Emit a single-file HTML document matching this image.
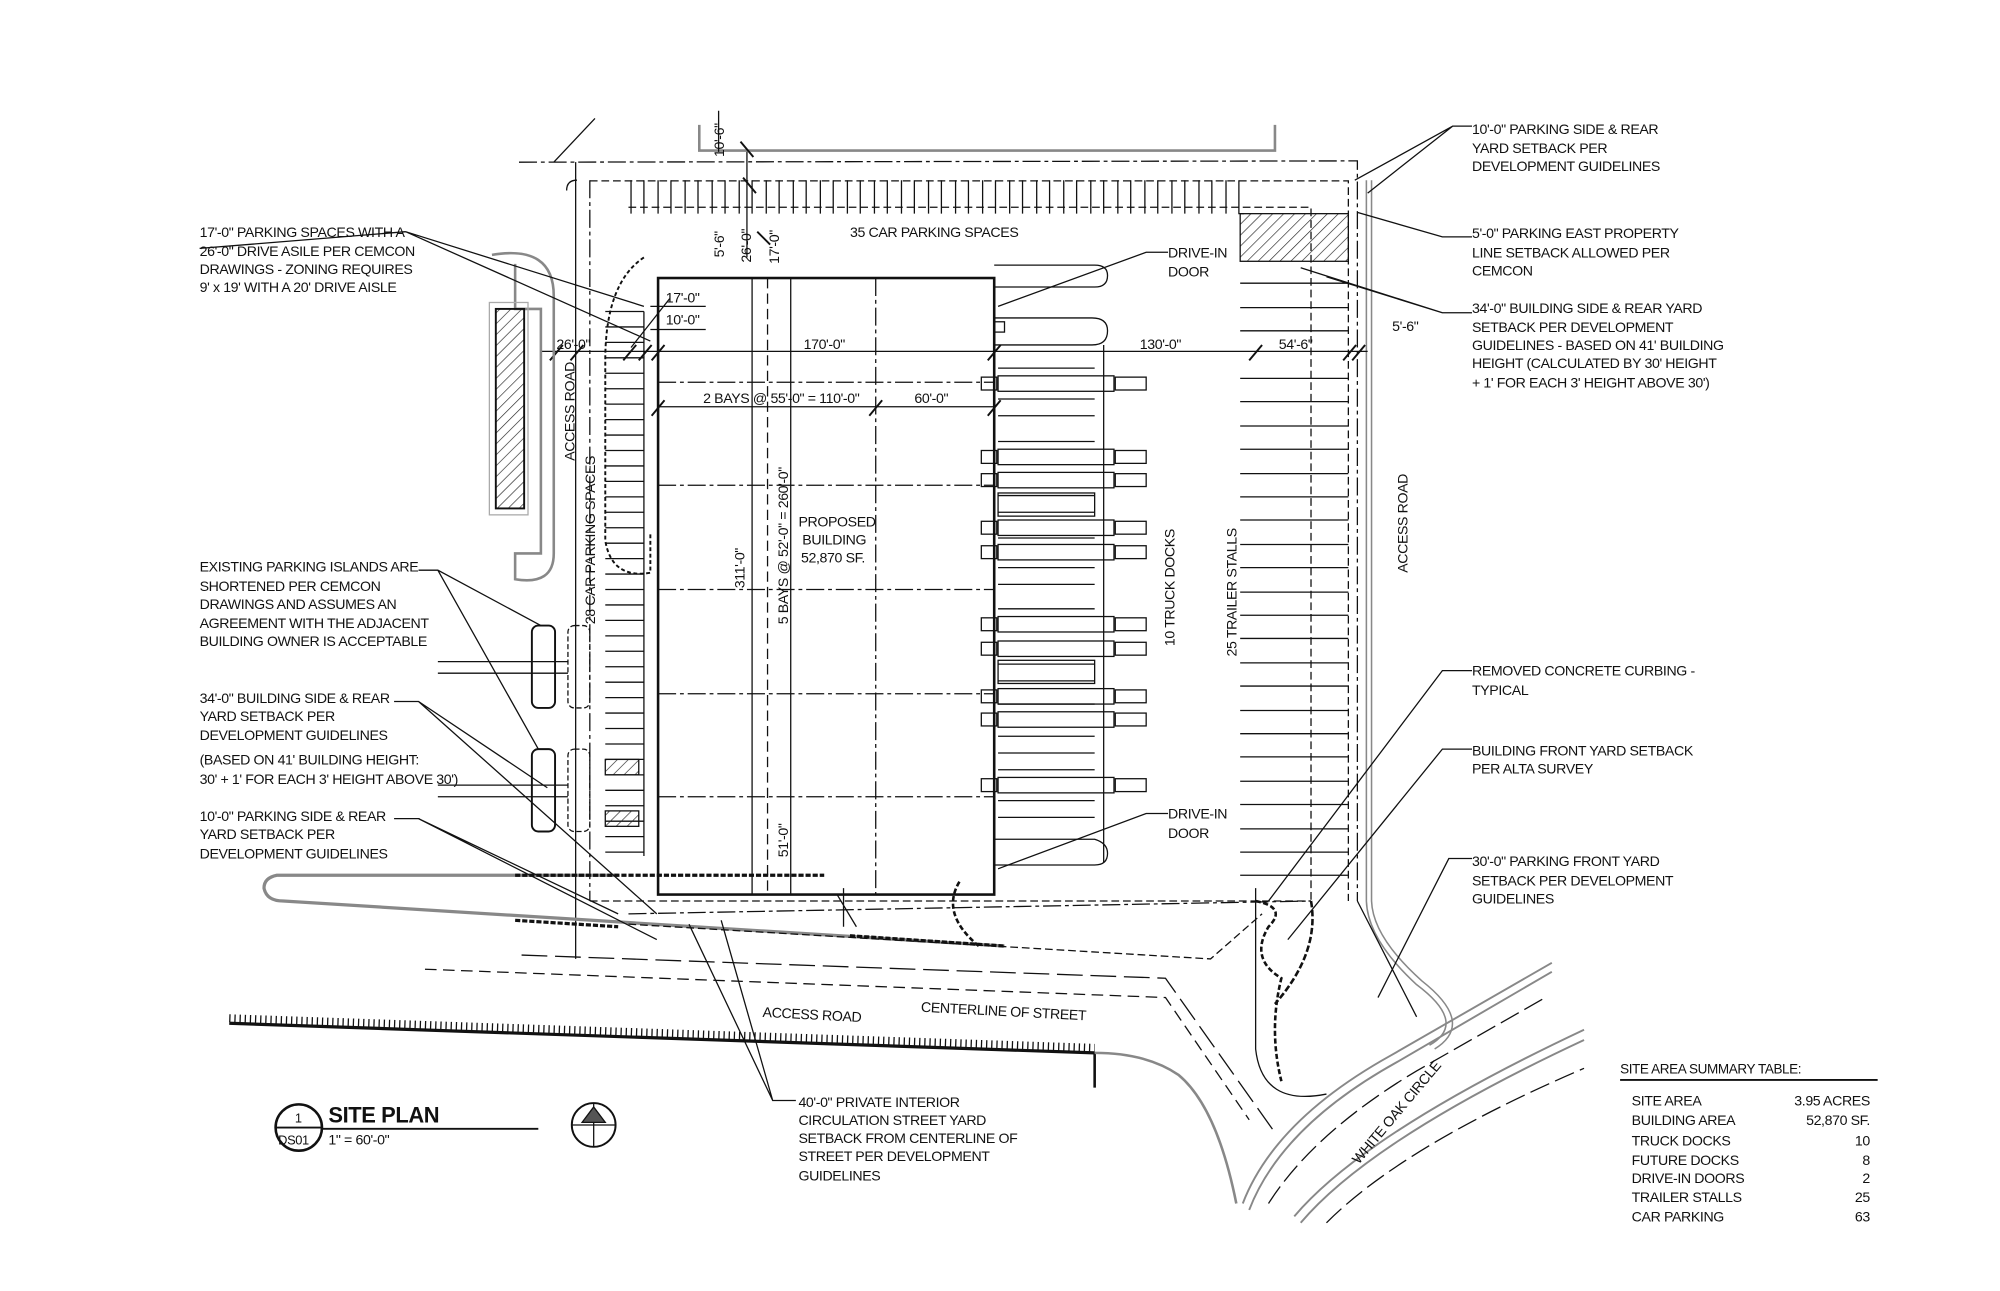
<!DOCTYPE html>
<html><head><meta charset="utf-8"><style>
html,body{margin:0;padding:0;background:#fff}
svg{display:block}
text{font-family:"Liberation Sans",sans-serif;font-size:11px;fill:#111;letter-spacing:-0.3px}
</style></head><body>
<svg width="2000" height="1291" viewBox="0 0 1553 1003" preserveAspectRatio="none" xmlns="http://www.w3.org/2000/svg">
<defs>
<pattern id="h" width="6" height="6" patternUnits="userSpaceOnUse" patternTransform="rotate(45)"><line x1="0" y1="0" x2="0" y2="6" stroke="#222" stroke-width="1"/></pattern>
</defs>
<g fill="none" stroke="#111" stroke-width="1">
<!-- top boundaries -->
<path d="M403,126 L1054,125 L1054,700" stroke-dasharray="14,3,3,3"/>
<path d="M458,140.5 L1047,140.5 L1047,700" stroke-dasharray="6,3"/>
<path d="M488,161 L1018,161 L1018,700" stroke-dasharray="6,3"/>
<path d="M430,126 L462,92"/>
<path d="M543,97 L543,117 L990,117 L990,97" stroke="#888" stroke-width="2"/>
<path d="M447,126 L447,745"/>
<path d="M440,148 Q440,140 448,140"/>
<!-- top parking stripes -->
<g>
<path d="M490,140 L490,166 M500,140 L500,166 M511,140 L511,166 M521,140 L521,166 M532,140 L532,166 M542,140 L542,166 M553,140 L553,166 M563,140 L563,166 M574,140 L574,166 M584,140 L584,166 M595,140 L595,166 M605,140 L605,166 M616,140 L616,166 M626,140 L626,166 M637,140 L637,166 M647,140 L647,166 M658,140 L658,166 M668,140 L668,166 M679,140 L679,166 M689,140 L689,166 M700,140 L700,166 M710,140 L710,166 M721,140 L721,166 M731,140 L731,166 M742,140 L742,166 M752,140 L752,166 M763,140 L763,166 M773,140 L773,166 M784,140 L784,166 M794,140 L794,166 M805,140 L805,166 M815,140 L815,166 M826,140 L826,166 M836,140 L836,166 M847,140 L847,166 M857,140 L857,166 M868,140 L868,166 M878,140 L878,166 M889,140 L889,166 M899,140 L899,166 M910,140 L910,166 M920,140 L920,166 M931,140 L931,166 M941,140 L941,166 M952,140 L952,166 M962,140 L962,166 Q962,166 966,166"/>
</g>
<!-- hatched area -->
<rect x="963" y="166" width="84" height="37" fill="url(#h)"/>
<!-- trailer stalls -->
<path d="M963,220H1047M963,239H1047M963,257H1047M963,294H1047M963,312H1047M963,331H1047M963,349H1047M963,368H1047M963,386H1047M963,404H1047M963,423H1047M963,441H1047M963,460H1047M963,478H1047M963,496H1047M963,515H1047M963,533H1047M963,552H1047M963,570H1047M963,588H1047M963,607H1047M963,625H1047M963,644H1047M963,662H1047M963,680H1047"/>
<!-- right access road -->
<path d="M1061,140 L1061,700 Q1062,730 1100,765 Q1140,795 1110,812" stroke="#888" stroke-width="1.2"/>
<path d="M1065,140 L1065,700 Q1066,728 1104,762 Q1146,795 1114,815" stroke="#888" stroke-width="1.2"/>
<path d="M1054,700 L1100,790"/>
<!-- building -->
<rect x="511" y="216" width="261" height="479" stroke-width="2"/>
<path d="M584,216V695M614,216V695"/>
<path d="M596,216V695" stroke-dasharray="8,4"/>
<path d="M680,216V695M511,297H772M511,377H772M511,458H772M511,539H772M511,619H772" stroke-dasharray="14,3,3,3"/>
<!-- dimension lines -->
<path d="M420,273 L1062,273"/>
<path d="M511,316 L772,316"/>
<g stroke-width="1.5"><path d="M427,280l10,-12M443,280l10,-12M484,280l10,-12M496,280l10,-12M506,280l10,-12M767,280l10,-12M970,280l10,-12M1043,280l10,-12M1050,280l10,-12M506,323l10,-12M675,323l10,-12M767,323l10,-12M575,110l10,12M587,150l-10,-12M598,190l-10,-10"/></g>
<path d="M505,238H548M505,256H548M490,270L520,232"/>
<!-- left parking -->
<path d="M382,198 Q430,190 430,230 L430,430 Q430,455 400,450 L400,430 L420,430 L420,240 L400,240 L400,205" stroke="#888" stroke-width="2"/>
<rect x="385" y="240" width="22" height="155" fill="url(#h)" stroke="#111" stroke-width="1.5"/>
<rect x="380" y="235" width="30" height="165" stroke="#aaa"/>
<path d="M500,242V665M470,242H500M470,254H500M470,266H500M470,278H500M470,290H500M470,302H500M470,314H500M470,326H500M470,338H500M470,350H500M470,362H500M470,374H500M470,386H500M470,398H500M470,410H500M470,422H500M470,434H500M470,446H500M470,458H500M470,470H500M470,482H500M470,494H500M470,506H500M470,518H500M470,530H500M470,542H500M470,554H500M470,566H500M470,578H500M470,590H500M470,602H500M470,614H500M470,626H500M470,638H500M470,650H500M470,662H500"/>
<path d="M458,140V700" stroke-dasharray="14,3,3,3"/>
<path d="M500,200 Q470,220 470,280 L470,420 Q475,450 505,445 L505,415" stroke-dasharray="3,2" stroke-width="1.5"/>
<rect x="470" y="590" width="26" height="12" fill="url(#h)"/>
<rect x="470" y="630" width="26" height="12" fill="url(#h)"/>
<rect x="413" y="486" width="18" height="64" rx="5" stroke-width="1.5"/>
<rect x="441" y="486" width="17" height="64" rx="5" stroke-dasharray="4,2"/>
<rect x="413" y="582" width="18" height="64" rx="5" stroke-width="1.5"/>
<rect x="441" y="582" width="17" height="64" rx="5" stroke-dasharray="4,2"/>
<path d="M340,514H441M340,523H441M340,610H441M340,619H441"/>
<!-- truck docks -->
<g>
<path d="M775,286H850M775,310H850M775,323H850M775,343H850M775,385H850M775,398H850M775,418H850M775,441H850M775,454H850M775,473H850M775,516H850M775,529H850M775,547H850M775,572H850M775,585H850M775,598H850M775,622H850M775,635H850"/>
<path d="M857,268V670"/>
<rect x="775" y="383" width="75" height="18"/><rect x="775" y="513" width="75" height="18"/>
<rect x="775" y="292" width="90" height="12"/><rect x="762" y="293" width="12" height="10"/><rect x="866" y="293" width="24" height="10"/>
<rect x="775" y="349" width="90" height="12"/><rect x="762" y="350" width="12" height="10"/><rect x="866" y="350" width="24" height="10"/>
<rect x="775" y="367" width="90" height="12"/><rect x="762" y="368" width="12" height="10"/><rect x="866" y="368" width="24" height="10"/>
<rect x="775" y="404" width="90" height="12"/><rect x="762" y="405" width="12" height="10"/><rect x="866" y="405" width="24" height="10"/>
<rect x="775" y="423" width="90" height="12"/><rect x="762" y="424" width="12" height="10"/><rect x="866" y="424" width="24" height="10"/>
<rect x="775" y="479" width="90" height="12"/><rect x="762" y="480" width="12" height="10"/><rect x="866" y="480" width="24" height="10"/>
<rect x="775" y="498" width="90" height="12"/><rect x="762" y="499" width="12" height="10"/><rect x="866" y="499" width="24" height="10"/>
<rect x="775" y="535" width="90" height="12"/><rect x="762" y="536" width="12" height="10"/><rect x="866" y="536" width="24" height="10"/>
<rect x="775" y="553" width="90" height="12"/><rect x="762" y="554" width="12" height="10"/><rect x="866" y="554" width="24" height="10"/>
<rect x="775" y="604" width="90" height="12"/><rect x="762" y="605" width="12" height="10"/><rect x="866" y="605" width="24" height="10"/>
</g>
<path d="M772,206 L850,206 Q860,206 860,214 Q860,223 850,223 L772,223"/>
<path d="M772,247 L848,247 Q860,247 860,257 Q860,268 848,268 L772,268"/>
<rect x="772" y="250" width="8" height="8"/>
<path d="M772,652 L850,652 Q860,655 860,663 Q860,672 850,672 L772,672"/>
<!-- bottom -->
<path d="M480,680 L215,680 Q205,682 205,690 Q207,700 220,700 L780,735" stroke="#888" stroke-width="2.5"/>
<path d="M400,680 H640 M400,715 L480,720 M660,727 L780,735" stroke-dasharray="4,1.5" stroke-width="2.5"/>
<path d="M458,700 L1018,700" stroke-dasharray="6,3"/>
<path d="M488,718 L940,745 L980,710" stroke-dasharray="6,3"/>
<path d="M488,710 L1018,700" stroke-dasharray="14,3,3,3"/>
<path d="M405,742 L905,760 L990,880" stroke-dasharray="20,6"/>
<path d="M330,753 L905,775 L970,870" stroke-dasharray="9,5"/>
<path d="M178,795 L850,818" stroke-width="2.5"/>
<path d="M178,795 L850,818" stroke-width="6" stroke-dasharray="1,3" transform="translate(0,-4)"/>
<path d="M850,818 L850,845" stroke-width="2"/>
<path d="M850,818 Q890,818 915,835 Q945,860 960,935" stroke="#888" stroke-width="2"/>
<path d="M745,685 Q730,710 760,735" stroke-dasharray="4,2" stroke-width="2"/>
<path d="M655,690 L655,720 M650,695 L665,720" />
<path d="M975,690 L975,815 Q980,860 1030,850" />
<path d="M975,700 Q1000,705 985,720 Q970,745 995,760 Q985,800 995,840" stroke-dasharray="4,2" stroke-width="2"/>
<path d="M1018,700 Q1025,740 990,780" stroke-dasharray="5,2" stroke-width="2"/>
<path d="M965,935 Q990,870 1080,820 L1205,748" stroke="#888" stroke-width="1.5"/>
<path d="M970,940 Q995,875 1085,825 L1205,755" stroke="#888" stroke-width="1.5"/>
<path d="M985,935 Q1020,880 1100,832 L1200,775" stroke-dasharray="16,5"/>
<path d="M1005,945 Q1060,880 1230,800" stroke="#888" stroke-width="1.5"/>
<path d="M1010,950 Q1065,885 1230,808" stroke="#888" stroke-width="1.5"/>
<path d="M1030,950 Q1090,890 1230,830" stroke-dasharray="16,5"/>
<!-- leaders -->
<path d="M155,193 L315,180 M315,180 L500,238 M315,180 L505,265"/>
<path d="M1143,98 L1128,98 L1052,140 M1128,98 L1062,150"/>
<path d="M1143,184 L1120,184 L1054,165"/>
<path d="M1143,243 L1120,243 L1010,208 M1120,243 L1030,215"/>
<path d="M325,443 L340,443 L420,486 M340,443 L418,582"/>
<path d="M306,545 L325,545 L425,612 M325,545 L510,710"/>
<path d="M306,636 L325,636 L480,710 M325,636 L510,730"/>
<path d="M618,855 L600,855 L560,715 M600,855 L535,718"/>
<path d="M907,196 L890,196 L775,238"/>
<path d="M907,632 L890,632 L775,675"/>
<path d="M1143,521 L1120,521 L985,700"/>
<path d="M1143,582 L1120,582 L1000,730"/>
<path d="M1143,667 L1125,667 L1070,775"/>
<path d="M558,86 L558,118 M580,118 L580,200"/>
<!-- site plan block -->
<circle cx="232" cy="876" r="18" stroke-width="2"/>
<path d="M214,876H250M250,877H418" stroke-width="1.5"/>
<circle cx="461" cy="874" r="17" stroke-width="1.5"/>
<path d="M444,874H478M461,857V891"/>
<path d="M461,860 L452,872 L470,872 Z" fill="#555"/>
<!-- table -->
<path d="M1258,839H1458" stroke-width="1.5"/>
</g>
<!-- text -->
<g>
<text x="155" y="184">17'-0" PARKING SPACES WITH A</text>
<text x="155" y="199">26'-0" DRIVE ASILE PER CEMCON</text>
<text x="155" y="213">DRAWINGS - ZONING REQUIRES</text>
<text x="155" y="227">9' x 19' WITH A 20' DRIVE AISLE</text>
<text x="1143" y="104">10'-0" PARKING SIDE &amp; REAR</text>
<text x="1143" y="119">YARD SETBACK PER</text>
<text x="1143" y="133">DEVELOPMENT GUIDELINES</text>
<text x="1143" y="185">5'-0" PARKING EAST PROPERTY</text>
<text x="1143" y="200">LINE SETBACK ALLOWED PER</text>
<text x="1143" y="214">CEMCON</text>
<text x="1143" y="243">34'-0" BUILDING SIDE &amp; REAR YARD</text>
<text x="1143" y="258">SETBACK PER DEVELOPMENT</text>
<text x="1143" y="272">GUIDELINES - BASED ON 41' BUILDING</text>
<text x="1143" y="286">HEIGHT (CALCULATED BY 30' HEIGHT</text>
<text x="1143" y="301">+ 1' FOR EACH 3' HEIGHT ABOVE 30')</text>
<text x="1143" y="525">REMOVED CONCRETE CURBING -</text>
<text x="1143" y="540">TYPICAL</text>
<text x="1143" y="587">BUILDING FRONT YARD SETBACK</text>
<text x="1143" y="601">PER ALTA SURVEY</text>
<text x="1143" y="673">30'-0" PARKING FRONT YARD</text>
<text x="1143" y="688">SETBACK PER DEVELOPMENT</text>
<text x="1143" y="702">GUIDELINES</text>
<text x="155" y="444">EXISTING PARKING ISLANDS ARE</text>
<text x="155" y="459">SHORTENED PER CEMCON</text>
<text x="155" y="473">DRAWINGS AND ASSUMES AN</text>
<text x="155" y="488">AGREEMENT WITH THE ADJACENT</text>
<text x="155" y="502">BUILDING OWNER IS ACCEPTABLE</text>
<text x="155" y="546">34'-0" BUILDING SIDE &amp; REAR</text>
<text x="155" y="560">YARD SETBACK PER</text>
<text x="155" y="575">DEVELOPMENT GUIDELINES</text>
<text x="155" y="594">(BASED ON 41' BUILDING HEIGHT:</text>
<text x="155" y="609">30' + 1' FOR EACH 3' HEIGHT ABOVE 30')</text>
<text x="155" y="638">10'-0" PARKING SIDE &amp; REAR</text>
<text x="155" y="652">YARD SETBACK PER</text>
<text x="155" y="667">DEVELOPMENT GUIDELINES</text>
<text x="620" y="860">40'-0" PRIVATE INTERIOR</text>
<text x="620" y="874">CIRCULATION STREET YARD</text>
<text x="620" y="888">SETBACK FROM CENTERLINE OF</text>
<text x="620" y="902">STREET PER DEVELOPMENT</text>
<text x="620" y="917">GUIDELINES</text>
<text x="907" y="200">DRIVE-IN</text><text x="907" y="215">DOOR</text>
<text x="907" y="636">DRIVE-IN</text><text x="907" y="651">DOOR</text>
<text x="660" y="184">35 CAR PARKING SPACES</text>
<text x="620" y="409">PROPOSED</text>
<text x="623" y="423">BUILDING</text>
<text x="622" y="437">52,870 SF.</text>
<text x="517" y="235">17'-0"</text>
<text x="517" y="252">10'-0"</text>
<text x="432" y="271">26'-0"</text>
<text x="624" y="271">170'-0"</text>
<text x="885" y="271">130'-0"</text>
<text x="993" y="271">54'-6"</text>
<text x="1081" y="257">5'-6"</text>
<text x="546" y="313">2 BAYS @ 55'-0" = 110'-0"</text>
<text x="710" y="313">60'-0"</text>
<text transform="translate(446,358) rotate(-90)">ACCESS ROAD</text>
<text transform="translate(462,485) rotate(-90)">28 CAR PARKING SPACES</text>
<text transform="translate(1093,445) rotate(-90)">ACCESS ROAD</text>
<text transform="translate(912,502) rotate(-90)">10 TRUCK DOCKS</text>
<text transform="translate(960,510) rotate(-90)">25 TRAILER STALLS</text>
<text transform="translate(612,485) rotate(-90)">5 BAYS @ 52'-0" = 260'-0"</text>
<text transform="translate(578,457) rotate(-90)">311'-0"</text>
<text transform="translate(612,666) rotate(-90)">51'-0"</text>
<text transform="translate(562,122) rotate(-90)">10'-6"</text>
<text transform="translate(562,200) rotate(-90)">5'-6"</text>
<text transform="translate(583,204) rotate(-90)">26'-0"</text>
<text transform="translate(605,205) rotate(-90)">17'-0"</text>
<text transform="translate(592,790) rotate(3)">ACCESS ROAD</text>
<text transform="translate(715,786) rotate(3)">CENTERLINE OF STREET</text>
<text transform="translate(1055,905) rotate(-50)">WHITE OAK CIRCLE</text>
<text x="229" y="872" style="font-size:10px">1</text>
<text x="216" y="889" style="font-size:10px">DS01</text>
<text x="255" y="872" style="font-size:17px;font-weight:bold">SITE PLAN</text>
<text x="255" y="889">1" = 60'-0"</text>
<text x="1258" y="834" style="font-size:10.5px">SITE AREA SUMMARY TABLE:</text>
<text x="1267" y="859">SITE AREA</text><text x="1452" y="859" text-anchor="end">3.95 ACRES</text>
<text x="1267" y="874">BUILDING AREA</text><text x="1452" y="874" text-anchor="end">52,870 SF.</text>
<text x="1267" y="890">TRUCK DOCKS</text><text x="1452" y="890" text-anchor="end">10</text>
<text x="1267" y="905">FUTURE DOCKS</text><text x="1452" y="905" text-anchor="end">8</text>
<text x="1267" y="919">DRIVE-IN DOORS</text><text x="1452" y="919" text-anchor="end">2</text>
<text x="1267" y="934">TRAILER STALLS</text><text x="1452" y="934" text-anchor="end">25</text>
<text x="1267" y="949">CAR PARKING</text><text x="1452" y="949" text-anchor="end">63</text>
</g>
</svg>
</body></html>
